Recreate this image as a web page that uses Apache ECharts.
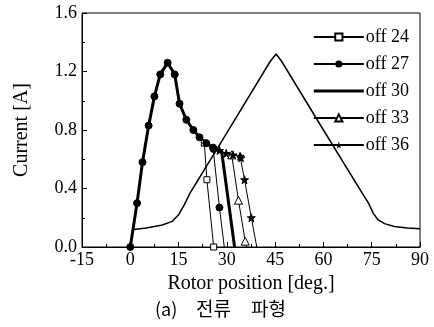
<!DOCTYPE html>
<html>
<head>
<meta charset="utf-8">
<script src="https://cdn.jsdelivr.net/npm/echarts@6/dist/echarts.min.js"></script>
<style>
  html, body { margin: 0; padding: 0; background: #fff; }
  #chart { width: 434px; height: 327px; }
</style>
</head>
<body>
<div id="chart"></div>
<script>
// common rising part of the current waveform (deg, A)
var riseDeg = [0, 2.1, 3.8, 5.7, 7.5, 9.3, 11.6, 13.8, 15.3, 17.4, 19.6, 21.5, 23.6, 25.7, 27.7, 29.8, 31.9, 34.1];
var riseAmp = [0, 0.30, 0.58, 0.83, 1.03, 1.18, 1.26, 1.18, 0.98, 0.87, 0.80, 0.75, 0.71, 0.68, 0.66, 0.64, 0.63, 0.62];

// turn-off tails for each series
var off24Deg = [23.0, 23.8, 25.9];
var off24Amp = [0.71, 0.46, 0.0];
var off27Deg = [25.9, 27.7, 29.2];
var off27Amp = [0.67, 0.27, 0.0];
var off30Deg = [28.4, 32.4];
var off30Amp = [0.65, 0.0];
var off33Deg = [31.5, 33.6, 35.7, 36.1];
var off33Amp = [0.63, 0.32, 0.04, 0.0];
var off36Deg = [34.4, 35.5, 37.6, 39.3];
var off36Amp = [0.61, 0.46, 0.20, 0.0];

// unlabelled triangular curve
var indDeg = [1.0, 5, 10, 13, 15, 16.8, 18.6, 30, 43.5, 45.3, 47, 60, 72, 74, 75.5, 77, 79, 82, 86, 90];
var indAmp = [0.12, 0.13, 0.15, 0.175, 0.22, 0.29, 0.37, 0.78, 1.27, 1.32, 1.27, 0.80, 0.37, 0.30, 0.23, 0.185, 0.16, 0.14, 0.13, 0.125];

var seriesNames = ['off 24', 'off 27', 'off 30', 'off 33', 'off 36'];
var xTicks = [-15, 0, 15, 30, 45, 60, 75, 90];
var yTicks = [0.0, 0.4, 0.8, 1.2, 1.6];

var STAR = 'path://M50,0 L61,35 L98,35 L68,57 L79,91 L50,70 L21,91 L32,57 L2,35 L39,35 Z';
var THICK_BAR = 'path://M0,0 L50,0 L50,3 L0,3 Z';
var FONT = 'Liberation Serif';
var KR = 'Noto Sans CJK KR';

// riseMarkFrom: rise points below this angle get no marker (left to the circles)
function buildData(tailDeg, tailAmp, riseMarkFrom, lastNoSymbol) {
  var out = [];
  for (var i = 0; i < riseDeg.length; i++) {
    if (riseDeg[i] >= tailDeg[0]) continue;
    if (riseDeg[i] < riseMarkFrom) out.push({ value: [riseDeg[i], riseAmp[i]], symbol: 'none' });
    else out.push([riseDeg[i], riseAmp[i]]);
  }
  for (var j = 0; j < tailDeg.length; j++) {
    if (lastNoSymbol && j === tailDeg.length - 1) {
      out.push({ value: [tailDeg[j], tailAmp[j]], symbol: 'none' });
    } else {
      out.push([tailDeg[j], tailAmp[j]]);
    }
  }
  return out;
}

var chart = echarts.init(document.getElementById('chart'));

chart.setOption({
  animation: false,
  backgroundColor: '#fff',
  textStyle: { fontFamily: FONT, color: '#000' },
  grid: {
    left: 82, right: 14, top: 13, bottom: 80,
    show: true, borderColor: '#000', borderWidth: 1
  },
  legend: {
    data: [
      { name: seriesNames[0] },
      { name: seriesNames[1] },
      { name: seriesNames[2], icon: THICK_BAR },
      { name: seriesNames[3] },
      { name: seriesNames[4] }
    ],
    orient: 'vertical',
    right: 20,
    top: 23,
    itemWidth: 50,
    itemHeight: 9,
    itemGap: 9,
    textStyle: { fontFamily: FONT, fontSize: 18, lineHeight: 14, color: '#000', padding: [0, 0, 0, -3] }
  },
  xAxis: {
    type: 'value',
    min: -15, max: 90, interval: 15,
    name: 'Rotor position [deg.]',
    nameLocation: 'middle',
    nameGap: 26,
    nameTextStyle: { fontFamily: FONT, fontSize: 20, color: '#000' },
    axisLine: { onZero: false, lineStyle: { color: '#000' } },
    axisTick: { inside: true, length: 5, lineStyle: { color: '#000' } },
    minorTick: { show: true, splitNumber: 2, length: 3, lineStyle: { color: '#000' } },
    axisLabel: {
      fontFamily: FONT, fontSize: 18, color: '#000', margin: 4,
      formatter: function (v) { return xTicks.indexOf(v) >= 0 ? String(v) : ''; }
    },
    splitLine: { show: false }
  },
  yAxis: {
    type: 'value',
    min: 0, max: 1.6, interval: 0.4,
    name: 'Current [A]',
    nameLocation: 'middle',
    nameGap: 50,
    nameTextStyle: { fontFamily: FONT, fontSize: 20, color: '#000' },
    axisLine: { show: true, onZero: false, lineStyle: { color: '#000' } },
    axisTick: { inside: true, length: 5, lineStyle: { color: '#000' } },
    minorTick: { show: true, splitNumber: 2, length: 3, lineStyle: { color: '#000' } },
    axisLabel: {
      fontFamily: FONT, fontSize: 18, color: '#000', margin: 5,
      formatter: function (v) { return v.toFixed(1); }
    },
    splitLine: { show: false }
  },
  graphic: [
    { type: 'text', left: 155, top: 300, style: { text: '(a)', fontFamily: KR, fontSize: 18, fill: '#000' } },
    { type: 'text', left: 196, top: 299, style: { text: '전류', fontFamily: KR, fontSize: 19, fill: '#000' } },
    { type: 'text', left: 251, top: 299, style: { text: '파형', fontFamily: KR, fontSize: 19, fill: '#000' } }
  ],
  series: [
    {
      name: 'unlabelled', type: 'line', data: indDeg.map(function (d, i) { return [d, indAmp[i]]; }),
      showSymbol: false, lineStyle: { color: '#000', width: 1.5 }, itemStyle: { color: '#000' }, z: 1
    },
    {
      name: 'off 24', type: 'line', data: buildData(off24Deg, off24Amp, 100, false),
      symbol: 'rect', symbolSize: 6,
      lineStyle: { color: '#000', width: 1 },
      itemStyle: { color: '#fff', borderColor: '#000', borderWidth: 1 }
    },
    {
      name: 'off 30', type: 'line', data: buildData(off30Deg, off30Amp, 100, false),
      symbol: 'none',
      lineStyle: { color: '#000', width: 3 },
      itemStyle: { color: '#000' }
    },
    {
      name: 'off 33', type: 'line', data: buildData(off33Deg, off33Amp, 100, true),
      symbol: 'triangle', symbolSize: 8,
      lineStyle: { color: '#000', width: 1 },
      itemStyle: { color: '#fff', borderColor: '#000', borderWidth: 1 }
    },
    {
      name: 'off 36', type: 'line', data: buildData(off36Deg, off36Amp, 25.8, true),
      symbol: STAR, symbolSize: 8,
      lineStyle: { color: '#000', width: 1 },
      itemStyle: { color: '#000', borderColor: '#000' }
    },
    {
      name: 'off 27', type: 'line', data: buildData(off27Deg, off27Amp, -1, true),
      symbol: 'circle', symbolSize: 7,
      lineStyle: { color: '#000', width: 1 },
      itemStyle: { color: '#000', borderColor: '#000' }
    }
  ]
});
</script>
</body>
</html>
